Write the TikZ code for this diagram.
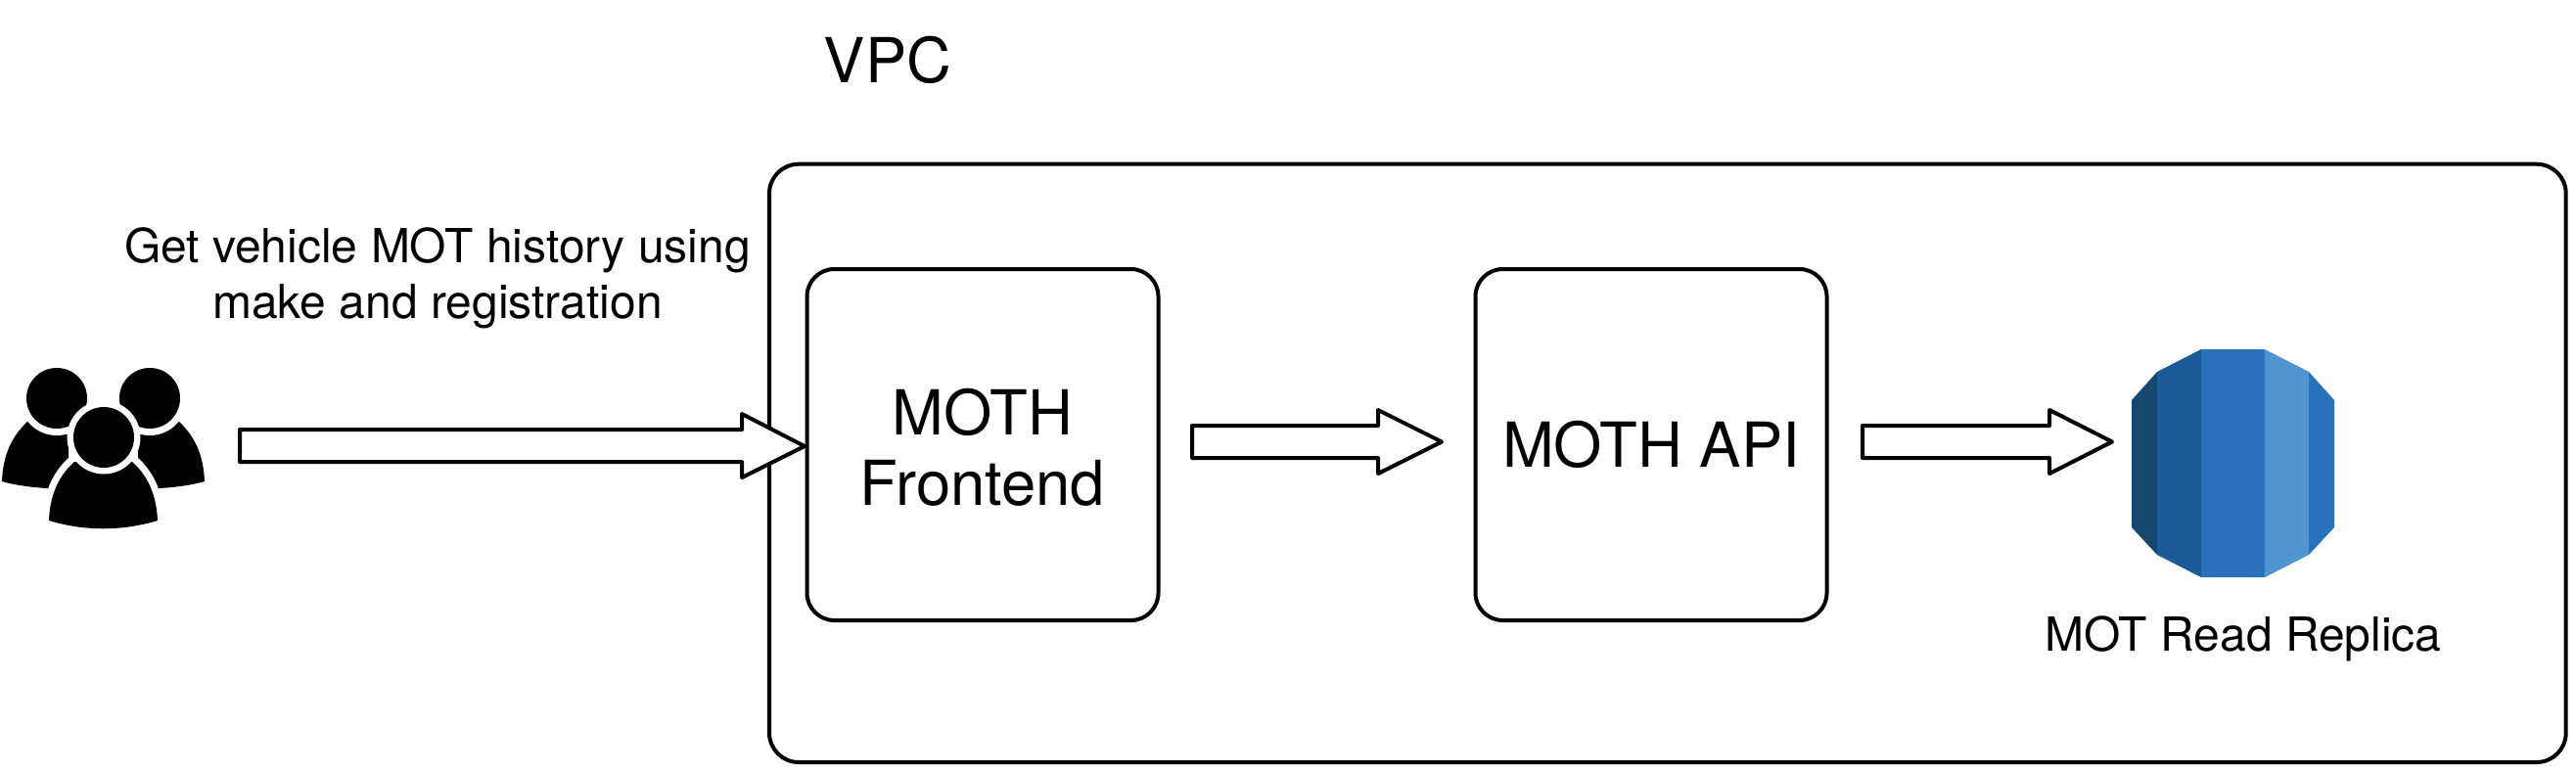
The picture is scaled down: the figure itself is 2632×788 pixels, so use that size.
\documentclass[tikz,border=0pt]{standalone}
\usepackage{fontspec}
\setmainfont{TeX Gyre Heros}
\newcommand{\bigtxt}{\fontsize{31.7}{36}\selectfont}
\newcommand{\smalltxt}{\fontsize{24}{28.5}\selectfont}
\definecolor{dbA}{HTML}{15476F}
\definecolor{dbB}{HTML}{1A5A96}
\definecolor{dbC}{HTML}{2A71BB}
\definecolor{dbD}{HTML}{5095D1}
\tikzset{
  frame/.style={draw=black,line width=2pt,rounded corners=15pt,inner sep=0pt,fill=none},
  svc/.style={frame,rounded corners=14pt,minimum width=179.5pt,minimum height=179.5pt,align=center,font=\bigtxt},
  blockarrow/.style={draw=black,fill=white,line width=2pt,line join=round},
  caption/.style={inner sep=0pt,align=center,font=\smalltxt},
  ink/.style={fill=black,draw=none},
  gap/.style={fill=white,draw=none},
}
\begin{document}
\begin{tikzpicture}[x=0.5pt,y=-0.5pt]
\useasboundingbox (0,0) rectangle (2632,788);
\fill[white] (0,0) rectangle (2632,788);
% VPC
\node[frame,minimum width=917.85pt,minimum height=305.65pt] (vpc) at (1703.85,473.35) {};
\node[inner sep=0pt,anchor=base,font=\bigtxt] (vpclabel) at (907,84) {VPC};
% services
\node[svc] (front) at (1004,454.5) {\rule{0pt}{26pt}MOTH\\Frontend};
\node[svc] (api) at (1687,454.5) {MOTH API};
% caption
\node[caption] (usecase) at (447,284) {Get vehicle MOT history using\\make and registration};
\node[caption] (replica) at (2292,653) {MOT Read Replica};
% arrows
\draw[blockarrow] (245,439) -- (758,439) -- (758,423) -- (822,456) -- (758,488) -- (758,472) -- (245,472) -- cycle;
\draw[blockarrow] (1218,435) -- (1408,435) -- (1408,419) -- (1473,451.5) -- (1408,484) -- (1408,468) -- (1218,468) -- cycle;
\draw[blockarrow] (1903,435) -- (2094,435) -- (2094,419) -- (2158,451.5) -- (2094,484) -- (2094,468) -- (1903,468) -- cycle;
% users icon
\fill[ink] (2,492) .. controls (3,465) and (12,446) .. (28,431) -- (70,420) -- (70,499) -- (48,499) .. controls (32,498) and (16,496) .. (2,492) -- cycle;
\fill[ink] (209,492) .. controls (208,465) and (199,446) .. (183,431) -- (141,420) -- (141,499) -- (163,499) .. controls (179,498) and (195,496) .. (209,492) -- cycle;
\fill[gap] (58,407) circle [radius=38];
\fill[gap] (153,407) circle [radius=38];
\fill[ink] (58,407) circle [radius=31];
\fill[ink] (153,407) circle [radius=31];
\path[preaction={draw=white,line width=7pt},fill=black] (50,532) .. controls (51,506) and (60,486) .. (76,472) -- (135,472) .. controls (151,486) and (160,506) .. (161,532) .. controls (125,543) and (86,543) .. (50,532) -- cycle;
\fill[gap] (106,447) circle [radius=37.5];
\fill[ink] (106,447) circle [radius=31];
% database icon
\fill[dbA] (2178,409) -- (2204,380) -- (2204,567) -- (2178,539) -- cycle;
\fill[dbB] (2204,380) -- (2249,357) -- (2249,590) -- (2204,567) -- cycle;
\fill[dbC] (2249,357) rectangle (2314,590);
\fill[dbD] (2314,357) -- (2359,380) -- (2359,567) -- (2314,590) -- cycle;
\fill[dbC] (2359,380) -- (2385,409) -- (2385,539) -- (2359,567) -- cycle;
\end{tikzpicture}
\end{document}
